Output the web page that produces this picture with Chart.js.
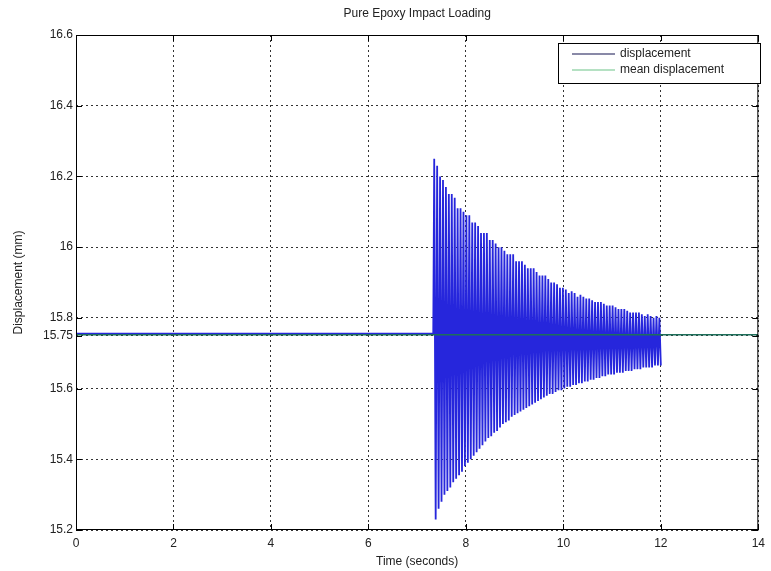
<!DOCTYPE html>
<html>
<head>
<meta charset="utf-8">
<script src="https://cdn.jsdelivr.net/npm/chart.js@4.4.0/dist/chart.umd.min.js"></script>
<style>
  html, body { margin: 0; padding: 0; background: #fff; }
  canvas { display: block; }
</style>
</head>
<body>
<canvas id="grafico" width="771" height="571"></canvas>
<script>
// Ejes
const xTicks = [0, 2, 4, 6, 8, 10, 12, 14];
const yTicks = [15.2, 15.4, 15.6, 15.75, 15.8, 16, 16.2, 16.4, 16.6];

// Tramo en reposo antes del impacto
const restTimes = [0, 7.33];
const restValues = [15.755, 15.755];

// Picos (máximos) de la oscilación
const peakTimes = [
  7.35, 7.41, 7.47, 7.53, 7.59, 7.65, 7.71, 7.77, 7.83, 7.89,
  7.95, 8.01, 8.07, 8.13, 8.19, 8.25, 8.31, 8.37, 8.43, 8.49,
  8.55, 8.61, 8.67, 8.73, 8.79, 8.85, 8.91, 8.97, 9.03, 9.09,
  9.15, 9.21, 9.27, 9.33, 9.39, 9.45, 9.51, 9.57, 9.63, 9.69,
  9.75, 9.81, 9.87, 9.93, 9.99, 10.05, 10.11, 10.17, 10.23, 10.29,
  10.35, 10.41, 10.47, 10.53, 10.59, 10.65, 10.71, 10.77, 10.83, 10.89,
  10.95, 11.01, 11.07, 11.13, 11.19, 11.25, 11.31, 11.37, 11.43, 11.49,
  11.55, 11.61, 11.67, 11.73, 11.79, 11.85, 11.91, 11.97
];
const peakValues = [
  16.25, 16.23, 16.20, 16.19, 16.17, 16.15, 16.15, 16.14, 16.11, 16.11,
  16.10, 16.09, 16.09, 16.07, 16.07, 16.06, 16.04, 16.04, 16.04, 16.02,
  16.02, 16.01, 16.00, 16.00, 15.99, 15.98, 15.98, 15.98, 15.96, 15.96,
  15.96, 15.95, 15.94, 15.94, 15.94, 15.93, 15.92, 15.92, 15.92, 15.91,
  15.90, 15.90, 15.895, 15.885, 15.885, 15.88, 15.87, 15.875, 15.87, 15.86,
  15.865, 15.86, 15.855, 15.855, 15.85, 15.845, 15.845, 15.845, 15.84, 15.835,
  15.835, 15.835, 15.83, 15.825, 15.825, 15.825, 15.82, 15.815, 15.815, 15.815,
  15.815, 15.81, 15.805, 15.81, 15.805, 15.80, 15.805, 15.80
];

// Valles (mínimos) de la oscilación
const troughTimes = [
  7.38, 7.44, 7.50, 7.56, 7.62, 7.68, 7.74, 7.80, 7.86, 7.92,
  7.98, 8.04, 8.10, 8.16, 8.22, 8.28, 8.34, 8.40, 8.46, 8.52,
  8.58, 8.64, 8.70, 8.76, 8.82, 8.88, 8.94, 9.00, 9.06, 9.12,
  9.18, 9.24, 9.30, 9.36, 9.42, 9.48, 9.54, 9.60, 9.66, 9.72,
  9.78, 9.84, 9.90, 9.96, 10.02, 10.08, 10.14, 10.20, 10.26, 10.32,
  10.38, 10.44, 10.50, 10.56, 10.62, 10.68, 10.74, 10.80, 10.86, 10.92,
  10.98, 11.04, 11.10, 11.16, 11.22, 11.28, 11.34, 11.40, 11.46, 11.52,
  11.58, 11.64, 11.70, 11.76, 11.82, 11.88, 11.94, 12.00
];
const troughValues = [
  15.23, 15.26, 15.28, 15.30, 15.31, 15.32, 15.335, 15.345, 15.355, 15.365,
  15.38, 15.39, 15.40, 15.41, 15.42, 15.43, 15.44, 15.45, 15.46, 15.465,
  15.475, 15.48, 15.49, 15.50, 15.505, 15.51, 15.52, 15.525, 15.53, 15.535,
  15.54, 15.545, 15.55, 15.555, 15.56, 15.565, 15.57, 15.575, 15.58, 15.585,
  15.585, 15.59, 15.595, 15.595, 15.60, 15.605, 15.605, 15.61, 15.61, 15.615,
  15.615, 15.62, 15.62, 15.625, 15.625, 15.63, 15.63, 15.635, 15.635, 15.64,
  15.64, 15.64, 15.645, 15.645, 15.645, 15.65, 15.65, 15.65, 15.655, 15.655,
  15.655, 15.66, 15.66, 15.66, 15.66, 15.665, 15.665, 15.665
];

// Desplazamiento medio
const meanTimes = [0, 14];
const meanValues = [15.752, 15.752];

// Armar la serie de desplazamiento (reposo + picos/valles alternados)
const desplazamiento = restTimes.map((t, i) => ({ x: t, y: restValues[i] }));
peakTimes.forEach((t, i) => {
    desplazamiento.push({ x: t, y: peakValues[i] });
    desplazamiento.push({ x: troughTimes[i], y: troughValues[i] });
});
const media = meanTimes.map((t, i) => ({ x: t, y: meanValues[i] }));

const fuente = '"Liberation Sans", Arial, Helvetica, sans-serif';
const colorDesp = '#2626dc';
const colorMedia = '#1d6f5a';

// Marco, marcas hacia dentro, título y leyenda al estilo MATLAB
const marcoPlugin = {
    id: 'marco',
    afterDraw(chart) {
        const { ctx, chartArea: a, scales } = chart;
        ctx.save();
        ctx.strokeStyle = '#000';
        ctx.lineWidth = 1;
        ctx.strokeRect(a.left + 0.5, a.top + 0.5, a.right - a.left - 1, a.bottom - a.top - 1);

        ctx.beginPath();
        xTicks.forEach(v => {
            const px = Math.round(scales.x.getPixelForValue(v)) + 0.5;
            ctx.moveTo(px, a.bottom); ctx.lineTo(px, a.bottom - 6);
            ctx.moveTo(px, a.top); ctx.lineTo(px, a.top + 6);
        });
        yTicks.forEach(v => {
            const py = Math.round(scales.y.getPixelForValue(v)) + 0.5;
            ctx.moveTo(a.left, py); ctx.lineTo(a.left + 6, py);
            ctx.moveTo(a.right, py); ctx.lineTo(a.right - 6, py);
        });
        ctx.stroke();

        // Título
        ctx.fillStyle = '#222';
        ctx.font = '12px ' + fuente;
        ctx.textAlign = 'center';
        ctx.textBaseline = 'middle';
        ctx.fillText('Pure Epoxy Impact Loading', (a.left + a.right) / 2, 14);

        // Leyenda
        const lx = 558, ly = 43, lw = 202, lh = 40;
        ctx.fillStyle = '#fff';
        ctx.fillRect(lx, ly, lw, lh);
        ctx.strokeStyle = '#000';
        ctx.strokeRect(lx + 0.5, ly + 0.5, lw, lh);
        const items = [
            { texto: 'displacement', color: '#141450' },
            { texto: 'mean displacement', color: '#6cc488' }
        ];
        items.forEach((it, i) => {
            const y = ly + 11 + i * 16;
            ctx.strokeStyle = it.color;
            ctx.lineWidth = 1.2;
            ctx.beginPath();
            ctx.moveTo(572, y); ctx.lineTo(615, y);
            ctx.stroke();
            ctx.fillStyle = '#222';
            ctx.textAlign = 'left';
            ctx.fillText(it.texto, 620, y);
        });
        ctx.restore();
    }
};

new Chart(document.getElementById('grafico'), {
    type: 'line',
    data: {
        datasets: [
            {
                label: 'mean displacement',
                data: media,
                borderColor: colorMedia,
                borderWidth: 1.5,
                pointRadius: 0,
                fill: false,
                order: 0
            },
            {
                label: 'displacement',
                data: desplazamiento,
                borderColor: colorDesp,
                borderWidth: 1.8,
                pointRadius: 0,
                fill: false,
                tension: 0,
                order: 1
            }
        ]
    },
    plugins: [marcoPlugin],
    options: {
        responsive: false,
        animation: false,
        devicePixelRatio: 1,
        layout: {
            autoPadding: false,
            padding: { top: 35, right: 5, left: 0, bottom: 0 }
        },
        plugins: {
            legend: { display: false },
            title: { display: false },
            tooltip: { enabled: false }
        },
        scales: {
            x: {
                type: 'linear',
                min: 0,
                max: 14,
                afterFit: s => { s.height = 41; },
                afterBuildTicks: s => { s.ticks = xTicks.map(v => ({ value: v })); },
                border: { display: false, dash: [2, 3] },
                grid: {
                    color: '#333',
                    lineWidth: 1,
                    drawTicks: false
                },
                ticks: {
                    padding: 6,
                    color: '#222',
                    font: { family: fuente, size: 12 },
                    maxRotation: 0,
                    callback: v => String(v)
                },
                title: {
                    display: true,
                    text: 'Time (seconds)',
                    color: '#222',
                    font: { family: fuente, size: 12 },
                    padding: { top: 0, bottom: 2 }
                }
            },
            y: {
                type: 'linear',
                min: 15.2,
                max: 16.6,
                afterFit: s => { s.width = 76; },
                afterBuildTicks: s => { s.ticks = yTicks.map(v => ({ value: v })); },
                border: { display: false, dash: [2, 3] },
                grid: {
                    color: '#333',
                    lineWidth: 1,
                    drawTicks: false
                },
                ticks: {
                    padding: 3,
                    color: '#222',
                    font: { family: fuente, size: 12 },
                    callback: v => String(v)
                },
                title: {
                    display: true,
                    text: 'Displacement (mm)',
                    color: '#222',
                    font: { family: fuente, size: 12 },
                    padding: { top: 11, bottom: 0 }
                }
            }
        }
    }
});
</script>
</body>
</html>
